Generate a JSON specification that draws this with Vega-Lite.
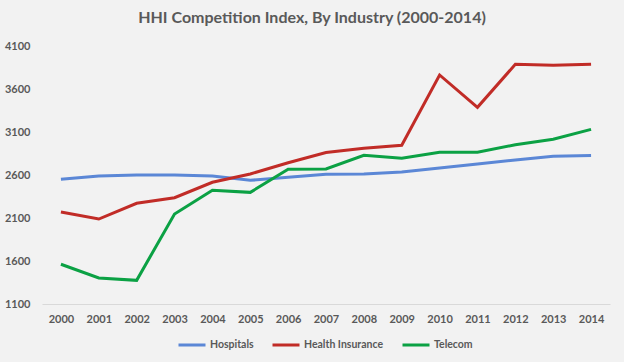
{
  "$schema": "https://vega.github.io/schema/vega-lite/v6.json",
  "width": 568,
  "height": 258,
  "autosize": {"type": "none"},
  "padding": {"left": 42, "top": 46, "right": 14, "bottom": 58},
  "background": "#f2f2f2",
  "title": {
    "text": "HHI Competition Index, By Industry (2000-2014)",
    "font": "Lato",
    "fontSize": 16,
    "fontWeight": "bold",
    "color": "#595959",
    "anchor": "middle",
    "offset": 14,
    "dx": -14
  },
  "config": {
    "view": {"stroke": null},
    "axis": {"labelFont": "Lato", "labelFontWeight": "bold", "labelColor": "#595959", "labelFontSize": 11},
    "legend": {"labelFont": "Lato", "labelFontWeight": "bold", "labelColor": "#595959", "labelFontSize": 10.5}
  },
  "data": {
    "values": [
      {"year": "2000", "industry": "Hospitals", "hhi": 2550},
      {"year": "2001", "industry": "Hospitals", "hhi": 2588},
      {"year": "2002", "industry": "Hospitals", "hhi": 2600},
      {"year": "2003", "industry": "Hospitals", "hhi": 2600},
      {"year": "2004", "industry": "Hospitals", "hhi": 2588},
      {"year": "2005", "industry": "Hospitals", "hhi": 2538},
      {"year": "2006", "industry": "Hospitals", "hhi": 2573},
      {"year": "2007", "industry": "Hospitals", "hhi": 2608},
      {"year": "2008", "industry": "Hospitals", "hhi": 2612},
      {"year": "2009", "industry": "Hospitals", "hhi": 2635},
      {"year": "2010", "industry": "Hospitals", "hhi": 2681},
      {"year": "2011", "industry": "Hospitals", "hhi": 2728},
      {"year": "2012", "industry": "Hospitals", "hhi": 2774},
      {"year": "2013", "industry": "Hospitals", "hhi": 2817},
      {"year": "2014", "industry": "Hospitals", "hhi": 2827},
      {"year": "2000", "industry": "Health Insurance", "hhi": 2170},
      {"year": "2001", "industry": "Health Insurance", "hhi": 2088},
      {"year": "2002", "industry": "Health Insurance", "hhi": 2271},
      {"year": "2003", "industry": "Health Insurance", "hhi": 2336},
      {"year": "2004", "industry": "Health Insurance", "hhi": 2515},
      {"year": "2005", "industry": "Health Insurance", "hhi": 2612},
      {"year": "2006", "industry": "Health Insurance", "hhi": 2743},
      {"year": "2007", "industry": "Health Insurance", "hhi": 2862},
      {"year": "2008", "industry": "Health Insurance", "hhi": 2910},
      {"year": "2009", "industry": "Health Insurance", "hhi": 2945},
      {"year": "2010", "industry": "Health Insurance", "hhi": 3763},
      {"year": "2011", "industry": "Health Insurance", "hhi": 3387},
      {"year": "2012", "industry": "Health Insurance", "hhi": 3887},
      {"year": "2013", "industry": "Health Insurance", "hhi": 3875},
      {"year": "2014", "industry": "Health Insurance", "hhi": 3887},
      {"year": "2000", "industry": "Telecom", "hhi": 1562},
      {"year": "2001", "industry": "Telecom", "hhi": 1402},
      {"year": "2002", "industry": "Telecom", "hhi": 1375},
      {"year": "2003", "industry": "Telecom", "hhi": 2147},
      {"year": "2004", "industry": "Telecom", "hhi": 2422},
      {"year": "2005", "industry": "Telecom", "hhi": 2398},
      {"year": "2006", "industry": "Telecom", "hhi": 2666},
      {"year": "2007", "industry": "Telecom", "hhi": 2670},
      {"year": "2008", "industry": "Telecom", "hhi": 2829},
      {"year": "2009", "industry": "Telecom", "hhi": 2794},
      {"year": "2010", "industry": "Telecom", "hhi": 2864},
      {"year": "2011", "industry": "Telecom", "hhi": 2864},
      {"year": "2012", "industry": "Telecom", "hhi": 2952},
      {"year": "2013", "industry": "Telecom", "hhi": 3015},
      {"year": "2014", "industry": "Telecom", "hhi": 3131}
    ]
  },
  "mark": {"type": "line", "strokeWidth": 3},
  "encoding": {
    "x": {
      "field": "year",
      "type": "ordinal",
      "scale": {"type": "point", "padding": 0.5},
      "axis": {"title": null, "labelAngle": 0, "ticks": false, "domainColor": "#d9d9d9", "domainWidth": 1, "labelPadding": 9}
    },
    "y": {
      "field": "hhi",
      "type": "quantitative",
      "scale": {"domain": [1100, 4100], "nice": false, "zero": false},
      "axis": {"title": null, "format": "d", "values": [1100, 1600, 2100, 2600, 3100, 3600, 4100], "grid": false, "domain": false, "ticks": false, "labelPadding": 12}
    },
    "color": {
      "field": "industry",
      "type": "nominal",
      "sort": ["Hospitals", "Health Insurance", "Telecom"],
      "scale": {"domain": ["Hospitals", "Health Insurance", "Telecom"], "range": ["#5b87d6", "#c12c27", "#0ba144"]},
      "legend": {"title": null, "orient": "none", "legendX": 135, "legendY": 284, "direction": "horizontal", "symbolType": "stroke", "symbolSize": 729, "symbolStrokeWidth": 3, "labelOffset": 3, "columnPadding": 12}
    }
  }
}
